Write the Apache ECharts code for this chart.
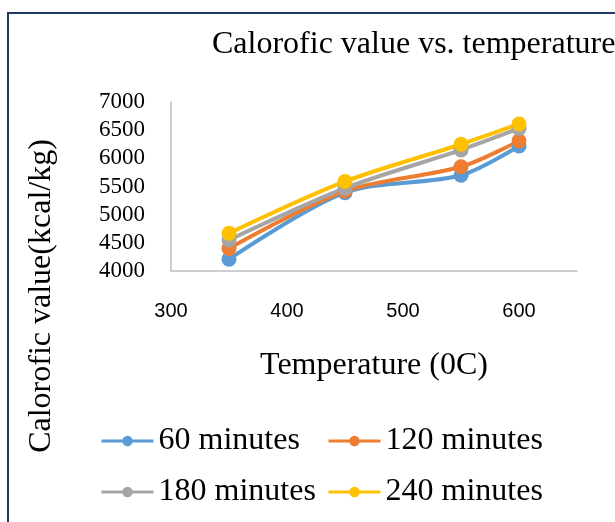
<!DOCTYPE html>
<html>
<head>
<meta charset="utf-8">
<script src="https://cdn.jsdelivr.net/npm/echarts@6/dist/echarts.min.js"></script>
<style>
  html, body { margin: 0; padding: 0; background: #fff; }
  #chart { width: 615px; height: 522px; }
</style>
</head>
<body>
<div id="chart"></div>
<script>
// Pyrolysis temperature (°C) and calorific value (kcal/kg) per residence time
const temperatures = [350, 450, 550, 600];
const series60 = [4210, 5390, 5700, 6220];
const series120 = [4400, 5420, 5850, 6310];
const series180 = [4550, 5470, 6150, 6530];
const series240 = [4670, 5590, 6250, 6610];
const seriesNames = ['60 minutes', '120 minutes', '180 minutes', '240 minutes'];
const seriesColors = ['#5B9BD5', '#ED7D31', '#A5A5A5', '#FFC000'];
const seriesValues = [series60, series120, series180, series240];

const serif = "'Liberation Serif', 'Times New Roman', serif";
const sans = "'Liberation Sans', Arial, sans-serif";

const chart = echarts.init(document.getElementById('chart'), null, { renderer: 'canvas' });

// two rows, two aligned columns
const legendSlots = [
  { left: 100, top: 425 },
  { left: 327, top: 425 },
  { left: 100, top: 476 },
  { left: 327, top: 476 }
];

const legends = seriesNames.map((name, i) => ({
  data: [name],
  left: legendSlots[i].left,
  top: legendSlots[i].top,
  padding: 0,
  itemWidth: 52,
  itemHeight: 13,
  selectedMode: false,
  lineStyle: { width: 3 },
  textStyle: { fontFamily: serif, fontSize: 32, color: '#000' }
}));

const option = {
  animation: false,
  backgroundColor: '#fff',
  title: {
    text: 'Calorofic value vs. temperature',
    left: 212,
    top: 29,
    padding: 0,
    textStyle: { fontFamily: serif, fontSize: 32, fontWeight: 'normal', color: '#000' }
  },
  legend: legends,
  grid: { left: 171, top: 102, right: 38, bottom: 251, containLabel: false },
  xAxis: {
    type: 'value',
    min: 300,
    max: 650,
    interval: 100,
    name: 'Temperature (0C)',
    nameLocation: 'middle',
    nameGap: 79,
    nameTextStyle: { fontFamily: serif, fontSize: 32, color: '#000' },
    axisLine: { show: true, lineStyle: { color: '#BFBFBF', width: 1.5 } },
    axisTick: { show: false },
    splitLine: { show: false },
    axisLabel: {
      showMaxLabel: false,
      margin: 30,
      fontFamily: sans,
      fontSize: 20,
      color: '#000'
    }
  },
  yAxis: {
    type: 'value',
    min: 4000,
    max: 7000,
    interval: 500,
    axisLine: { show: true, lineStyle: { color: '#BFBFBF', width: 1.5 } },
    axisTick: { show: false },
    splitLine: { show: false },
    axisLabel: {
      margin: 26,
      fontFamily: serif,
      fontSize: 23,
      color: '#000',
      formatter: (v) => String(v)
    }
  },
  graphic: [
    {
      type: 'rect',
      shape: { x: 8, y: 13, width: 700, height: 600 },
      style: { fill: 'none', stroke: '#1F3864', lineWidth: 2 },
      silent: true
    },
    {
      type: 'text',
      x: 42,
      y: 296,
      rotation: Math.PI / 2,
      style: {
        text: 'Calorofic value(kcal/kg)',
        fontFamily: serif,
        fontSize: 32,
        fill: '#000',
        align: 'center',
        verticalAlign: 'middle'
      }
    }
  ],
  series: seriesNames.map((name, i) => ({
    name: name,
    type: 'line',
    smooth: 0.3,
    data: temperatures.map((t, k) => [t, seriesValues[i][k]]),
    symbol: 'circle',
    symbolSize: 15,
    color: seriesColors[i],
    lineStyle: { width: 4, color: seriesColors[i] },
    itemStyle: { color: seriesColors[i] }
  }))
};

chart.setOption(option);
</script>
</body>
</html>
